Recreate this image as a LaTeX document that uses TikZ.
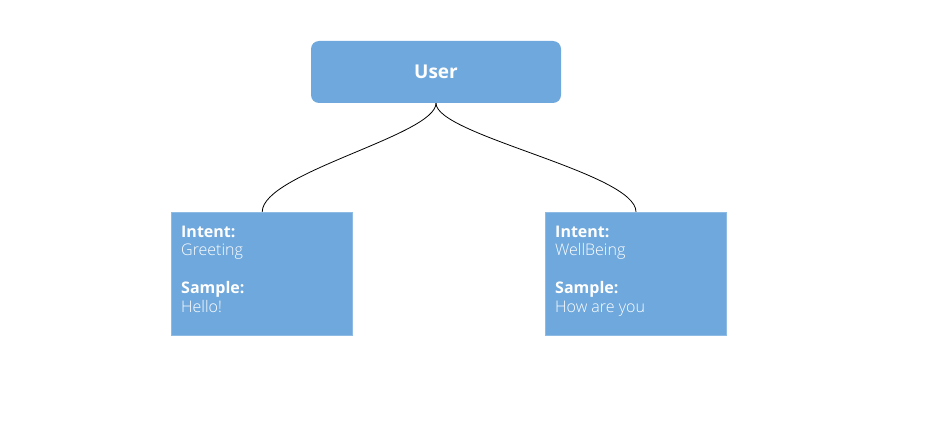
\documentclass[tikz,border=0pt]{standalone}
\usepackage{fontspec}
\setmainfont{Open Sans}
\newfontfamily\lightfont{Open Sans Light}
\definecolor{boxblue}{HTML}{6FA8DC}
\definecolor{boxedge}{HTML}{8DBBE4}
\tikzset{
  userbox/.style={fill=boxblue, rounded corners=8pt, minimum width=250pt, minimum height=62pt, text=white, font=\fontsize{19}{23}\selectfont\bfseries},
  intentbox/.style={fill=boxblue, draw=boxedge, line width=0.8pt, minimum width=181pt, minimum height=123.5pt},
  boxtext/.style={anchor=north west, inner sep=0pt, align=left, text=white, font=\fontsize{16}{18.7}\selectfont\lightfont},
  link/.style={draw=black, line width=0.8pt}
}
\begin{document}
\begin{tikzpicture}[x=1pt,y=1pt]
                    \useasboundingbox (0,0) rectangle (927,424);

                    \node[userbox] (user) at (436,352) {User};

                    \node[intentbox] (greet) at (262.25,150) {};
                    \node[intentbox] (wellbeing) at (636,150) {};

                    \node[boxtext] (greettext) at (181,198.4) {{\normalfont\bfseries Intent:}\\Greeting\\[18.7pt]{\normalfont\bfseries Sample:}\\Hello!};
                    \node[boxtext] (wellbeingtext) at (555,198.4) {{\normalfont\bfseries Intent:}\\WellBeing\\[18.7pt]{\normalfont\bfseries Sample:}\\How are you};

                    \draw[link] (user.south) .. controls +(0,-32) and +(0,39) .. (greet.north);
                    \draw[link] (user.south) .. controls +(0,-32) and +(0,39) .. (wellbeing.north);

                  \end{tikzpicture}
\end{document}
